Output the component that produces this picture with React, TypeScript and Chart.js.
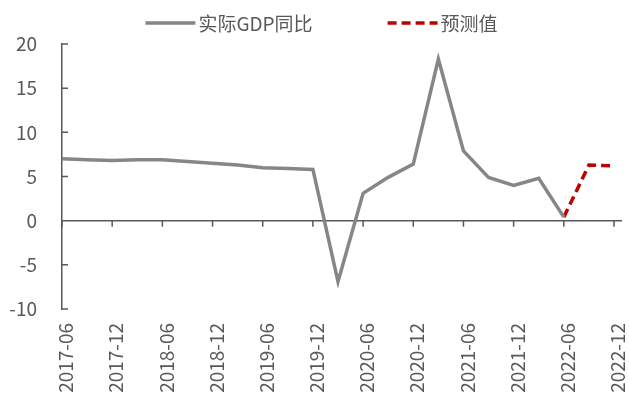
import React, { useEffect, useRef } from "react";
import { Chart, registerables } from "chart.js";

Chart.register(...registerables);

const categories = [
  "2017-06", "2017-09", "2017-12",
  "2018-03", "2018-06", "2018-09", "2018-12",
  "2019-03", "2019-06", "2019-09", "2019-12",
  "2020-03", "2020-06", "2020-09", "2020-12",
  "2021-03", "2021-06", "2021-09", "2021-12",
  "2022-03", "2022-06", "2022-09", "2022-12",
];

const actualGdp = [
  7.0, 6.9, 6.8,
  6.9, 6.9, 6.7, 6.5,
  6.3, 6.0, 5.9, 5.8,
  -6.9, 3.1, 4.9, 6.4,
  18.3, 7.9, 4.9, 4.0,
  4.8, 0.4, null, null,
];

const forecast = [
  null, null, null,
  null, null, null, null,
  null, null, null, null,
  null, null, null, null,
  null, null, null, null,
  null, 0.4, 6.3, 6.2,
];

const yTicks = [-10, -5, 0, 5, 10, 15, 20];

const FONT = '"Noto Sans CJK SC", "Open Sans", sans-serif';
const TEXT = "#595959";
const AXIS = "#595959";
const GRAY = "#868686";
const RED = "#C00000";

const axesPlugin = {
  id: "customAxes",
  beforeDatasetsDraw(chart: any) {
    const { ctx, chartArea, scales } = chart;
    const x = scales.x;
    const y = scales.y;
    const y0 = y.getPixelForValue(0);
    ctx.save();
    ctx.strokeStyle = AXIS;
    ctx.lineWidth = 1.5;
    ctx.beginPath();
    ctx.moveTo(chartArea.left, y0);
    ctx.lineTo(chartArea.right + 8, y0);
    categories.forEach((_, i) => {
      if (i % 2 === 0) {
        const px = x.getPixelForValue(i);
        ctx.moveTo(px, y0);
        ctx.lineTo(px, y0 + 6);
      }
    });
    yTicks.forEach((v) => {
      const py = y.getPixelForValue(v);
      ctx.moveTo(chartArea.left, py);
      ctx.lineTo(chartArea.left + 6, py);
    });
    ctx.stroke();
    ctx.restore();
  },
};

const legendPlugin = {
  id: "customLegend",
  afterDraw(chart: any) {
    const { ctx } = chart;
    const fontSize = 19;
    const boxW = 50;
    const gapText = 3;
    const itemGap = 75;
    const yMid = 23;
    ctx.save();
    ctx.font = `${fontSize}px ${FONT}`;
    const items = chart.data.datasets.map((ds: any) => ({
      text: ds.label,
      color: ds.borderColor,
      dash: ds.borderDash || [],
      width: ctx.measureText(ds.label).width,
    }));
    const total =
      items.reduce((s: number, it: any) => s + boxW + gapText + it.width, 0) +
      itemGap * (items.length - 1);
    let xPos = chart.width / 2 + 7 - total / 2;
    items.forEach((it: any) => {
      ctx.strokeStyle = it.color;
      ctx.lineWidth = 3.5;
      ctx.setLineDash(it.dash);
      ctx.beginPath();
      ctx.moveTo(xPos, yMid);
      ctx.lineTo(xPos + boxW, yMid);
      ctx.stroke();
      ctx.setLineDash([]);
      ctx.fillStyle = TEXT;
      ctx.textBaseline = "middle";
      ctx.textAlign = "left";
      ctx.fillText(it.text, xPos + boxW + gapText, yMid + 1);
      xPos += boxW + gapText + it.width + itemGap;
    });
    ctx.restore();
  },
};

export default function App() {
  const canvasRef = useRef<HTMLCanvasElement | null>(null);

  useEffect(() => {
    if (!canvasRef.current) return;
    const chart = new Chart(canvasRef.current, {
      type: "line",
      data: {
        labels: categories,
        datasets: [
          {
            label: "实际GDP同比",
            data: actualGdp,
            borderColor: GRAY,
            backgroundColor: GRAY,
            borderWidth: 3.5,
            pointRadius: 0,
            tension: 0,
            spanGaps: false,
          },
          {
            label: "预测值",
            data: forecast,
            borderColor: RED,
            backgroundColor: RED,
            borderWidth: 3.5,
            borderDash: [9, 5],
            pointRadius: 0,
            tension: 0,
            spanGaps: false,
          },
        ],
      },
      options: {
        animation: false,
        responsive: false,
        maintainAspectRatio: false,
        layout: { padding: { top: 44, right: 15, left: 6, bottom: 0 } },
        plugins: {
          legend: { display: false },
          tooltip: { enabled: false },
        },
        scales: {
          x: {
            type: "category",
            offset: false,
            grid: { display: false, drawTicks: false },
            border: { display: false },
            afterFit: (scale: any) => {
              scale.height = 87;
              scale.paddingLeft = 0;
              scale.paddingRight = 0;
            },
            ticks: {
              autoSkip: false,
              maxRotation: 90,
              minRotation: 90,
              padding: 14,
              labelOffset: 4,
              color: TEXT,
              font: { family: FONT, size: 19 },
              callback: (_v: any, i: number) => (i % 2 === 0 ? categories[i] : ""),
            },
          },
          y: {
            min: -10,
            max: 20,
            afterBuildTicks: (scale: any) => {
              scale.ticks = yTicks.map((v) => ({ value: v }));
            },
            afterFit: (scale: any) => {
              scale.width = 56;
              scale.paddingTop = 0;
              scale.paddingBottom = 0;
            },
            grid: { display: false, drawTicks: false },
            border: { display: true, color: AXIS, width: 1.5 },
            ticks: {
              padding: 25,
              color: TEXT,
              font: { family: FONT, size: 19 },
            },
          },
        },
      },
      plugins: [axesPlugin, legendPlugin],
    });
    return () => chart.destroy();
  }, []);

  return (
    <div style={{ position: "fixed", left: 0, top: 0, width: 629, height: 396, background: "#fff" }}>
      <canvas ref={canvasRef} width={629} height={396} style={{ display: "block" }} />
    </div>
  );
}
